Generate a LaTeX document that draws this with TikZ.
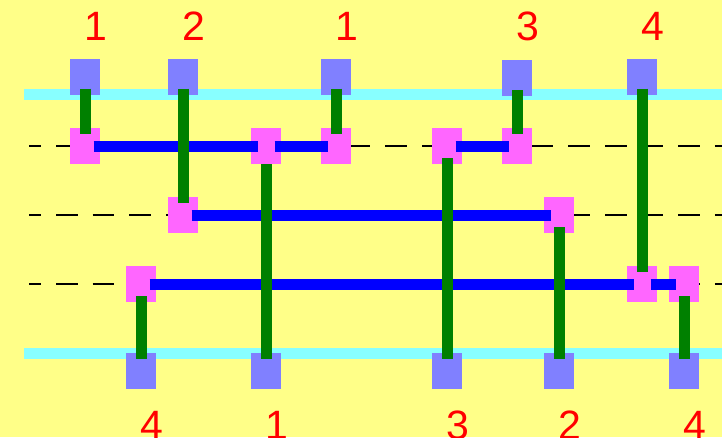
\documentclass[tikz,border=0pt]{standalone}
\usepackage{fontspec}
\setmainfont{Liberation Sans}
\usepackage{xcolor}
\usetikzlibrary{positioning}
\definecolor{bgyellow}{HTML}{FFFF88}
\definecolor{railcyan}{HTML}{88FFFF}
\definecolor{pinblue}{HTML}{8080FF}
\definecolor{viapink}{HTML}{FF66FF}
\definecolor{wiregreen}{HTML}{008000}

\begin{document}
\begin{tikzpicture}[
    x=1pt,
    y=-1pt,
    line cap=butt,
    pinbox/.style={fill=pinblue, minimum width=30pt, minimum height=36pt, inner sep=0pt, outer sep=0pt},
    viabox/.style={fill=viapink, minimum width=30pt, minimum height=36pt, inner sep=0pt, outer sep=0pt},
    rail/.style={draw=railcyan, line width=11pt},
    track/.style={draw=black, line width=2pt, dash pattern=on 21.5pt off 15.1pt, dash phase=9.6pt},
    trunk/.style={draw=blue, line width=11pt, shorten <=8.5pt, shorten >=8.5pt},
    branch/.style={draw=wiregreen, line width=11pt, shorten <=12pt, shorten >=12pt},
    pinlabel/.style={text=red, font=\fontsize{41}{41}\selectfont, inner sep=0pt, anchor=base},
  ]

  \def\rowA{146}
  \def\rowB{215}
  \def\rowC{284}
  \def\labShift{11}

  % Frame and background
  \useasboundingbox (0,0) rectangle (722,437);
  \clip (0,0) rectangle (722,437);
  \fill[bgyellow] (0,0) rectangle (722,437);

  % Dashed tracks
  \foreach \y in {\rowA,\rowB,\rowC} {
    \draw[track] (29,\y) -- (722,\y);
  }

  % Top and bottom rails
  \draw[rail] (24,94.5) -- (722,94.5);
  \draw[rail] (24,353.5) -- (722,353.5);

  % Pins with their net numbers
  \foreach \name/\x/\y/\num in {t1/85/76.5/1, t2/183/76.5/2, t3/336/76.5/1, t4/517/78/3, t5/642/76.5/4} {
    \node[pinbox] (\name) at (\x,\y) {};
    \node[pinlabel] (\name-lab) at (\x+\labShift,40) {\num};
  }
  \foreach \name/\x/\num in {s1/141/4, s2/266/1, s3/447/3, s4/559/2, s5/684/4} {
    \node[pinbox] (\name) at (\x,371) {};
    \node[pinlabel] (\name-lab) at (\x+\labShift,439) {\num};
  }

  % Vias on the three tracks
  \foreach \name/\x/\y in {a1/85/\rowA, a2/266/\rowA, a3/336/\rowA, a4/447/\rowA, a5/517/\rowA,
                           b1/183/\rowB, b2/559/\rowB,
                           c1/141/\rowC, c2/642/\rowC, c3/684/\rowC} {
    \node[viabox] (\name) at (\x,\y) {};
  }

  % Horizontal trunks
  \foreach \u/\v in {a1/a2, a2/a3, a4/a5, b1/b2, c1/c2, c2/c3} {
    \draw[trunk] (\u.center) -- (\v.center);
  }

  % Vertical branches
  \foreach \u/\v in {t1/a1, t2/b1, t3/a3, t4/a5, t5/c2, a4/s3, b2/s4, c1/s1, c3/s5} {
    \draw[branch] (\u.center) -- (\v.center);
  }
  \draw[branch, shorten <=18pt] (a2.center) -- (s2.center);
\end{tikzpicture}
\end{document}
